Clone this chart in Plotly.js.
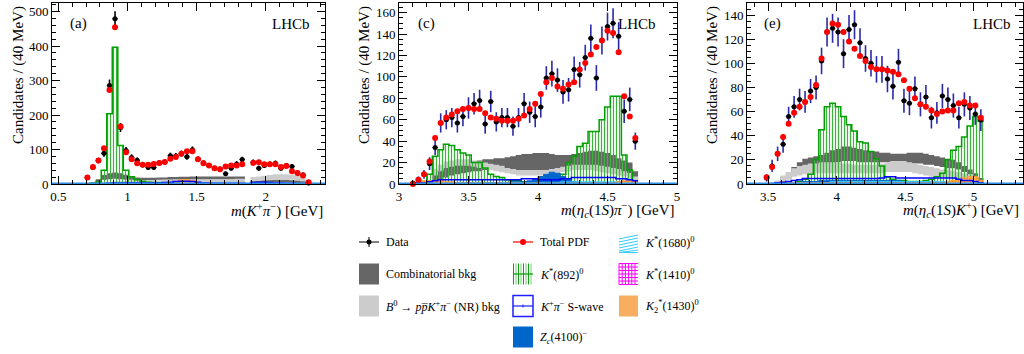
<!DOCTYPE html>
<html><head><meta charset="utf-8">
<script src="https://cdn.plot.ly/plotly-3.0.1.min.js"></script>
<style>html,body{margin:0;padding:0;background:#fff}#chart{width:1024px;height:354px}</style>
</head><body><div id="chart"></div>
<script>
// ---------------- Panel (a): m(K+ pi-) ----------------
const A_x = [0.71,0.75,0.79,0.83,0.87,0.91,0.95,0.99,1.03,1.07,1.11,1.15,1.19,1.23,1.27,1.31,1.35,1.39,1.43,1.47,1.51,1.55,1.59,1.63,1.67,1.71,1.75,1.79,1.83,1.87,1.91,1.95,1.99,2.03,2.07,2.11,2.15,2.19,2.23,2.27,2.31];
const A_data = [19,48,68,89,286,479,164,97,77,69,56,48,48,61,64,82,81,88,79,99,72,61,54,46,43,30,46,58,71,null,63,46,54,57,60,46,54,51,32,27,3];
const A_err  = [5,7,8,10,17,22,13,10,9,8,8,7,7,8,8,9,9,9,9,10,8,8,7,7,7,6,7,8,8,null,8,7,7,8,8,7,7,7,6,5,2];
const A_pdf  = [19,49,68,104,273,455,167,92,72,60,56,56,58,61,64,73,78,88,95,95,72,60,54,46,43,51,54,54,57,null,61,63,57,57,57,49,52,37,32,25,5];
const A_kst  = [1,2,6,40,204,397,112,40,21,12,8,5,4,3,3,3,2,2,2,2,1,1,1,1,1,1,1,1,1,0,1,1,0,0,0,0,0,0,0,0,0];
const A_combHi = [0,4,14,26,31,33,31,27,22,19,18,18,18,19,19,20,20,21,21,22,22,22,22,22,22,22,22,22,22,0,12,12,12,12,12,12,12,11,10,8,3];
const A_combLo = [0,1,6,12,14,15,14,13,12,11,11,11,11,12,12,12,13,13,13,13,13,13,13,13,13,13,13,13,13,0,4,4,4,4,4,4,4,4,3,2,0];
const A_nrHi = [0,0,2,4,6,7,8,9,10,10,10,11,11,11,12,12,12,12,13,13,13,13,13,14,14,14,14,15,15,0,20,22,24,26,28,28,28,27,25,20,8];
const A_nrLo = [0,0,0,1,2,2,3,3,3,3,3,3,3,3,4,4,4,4,4,4,4,4,4,4,4,4,5,5,5,0,8,9,10,11,12,12,12,12,11,9,3];
const A_swave = [0,0,1,1,2,3,3,3,3,3,3,3,3,3,4,5,7,8,8,7,5,3,3,2,2,2,2,2,2,0,4,5,5,4,3,3,2,2,1,1,0];
const A_zc = [0,0,0,0,0,0,0,0,1,1,1,1,1,1,1,1,1,1,1,1,1,1,1,1,1,1,1,1,1,0,1,1,1,1,1,1,1,1,1,0,0];
const A_k1680 = [0,0,0,0,0,0,0,0,0,0,0,0,1,1,1,1,1,1,1,1,1,1,1,1,1,1,1,1,1,0,1,1,1,1,1,1,1,1,0,0,0];
const A_k1410 = [0,0,0,0,0,0,0,0,0,0,0,0,0,0,0,1,1,1,1,1,1,0,0,0,0,0,0,0,0,0,0,0,0,0,0,0,0,0,0,0,0];
const A_k2 = [0,0,0,0,0,0,0,0,0,0,0,0,0,0,1,3,7,12,13,10,5,2,1,0,0,0,0,0,0,0,0,0,0,0,0,0,0,0,0,0,0];

// ---------------- Panel (c): m(eta_c(1S) pi-) ----------------
const C_x = [3.10,3.14,3.18,3.22,3.26,3.30,3.34,3.38,3.42,3.46,3.50,3.54,3.58,3.62,3.66,3.70,3.74,3.78,3.82,3.86,3.90,3.94,3.98,4.02,4.06,4.10,4.14,4.18,4.22,4.26,4.30,4.34,4.38,4.42,4.46,4.50,4.54,4.58,4.62,4.66,4.70];
const C_data = [1,4,9,19,34,57,60,62,57,63,71,75,78,56,77,58,62,62,54,62,75,67,63,72,99,103,97,86,88,107,102,118,136,99,134,147,150,138,68,79,40];
const C_err  = [1,3,4,6,7,9,9,9,9,9,10,10,10,9,10,9,9,9,9,9,10,10,10,10,11,12,11,11,11,12,12,12,13,12,13,13,14,13,11,11,8];
const C_pdf  = [0,4,9,21,43,57,62,65,68,70,71,70,70,66,62,61,59,59,59,61,64,70,75,84,95,99,91,89,93,95,107,113,121,128,134,143,141,123,82,63,43];
const C_kst  = [0,0,1,9,26,32,37,36,32,29,27,20,20,15,9,7,6,4,3,3,2,2,2,2,2,2,3,9,20,26,35,38,49,49,60,72,82,82,27,13,0];
const C_combHi = [0,0,0,3,10,13,15,17,18,20,21,21,22,23,23,24,24,25,26,27,28,28,29,29,29,28,27,27,27,28,29,30,31,31,30,29,27,24,22,20,12];
const C_combLo = [0,0,0,0,2,4,6,8,9,10,11,12,12,13,13,13,14,14,14,13,13,13,13,13,13,14,14,15,15,15,15,15,14,14,14,13,13,12,11,10,5];
const C_nrHi = [0,0,0,3,14,18,21,22,23,23,23,22,21,20,19,18,17,15,14,13,13,13,13,13,13,14,15,16,17,18,18,18,18,18,17,16,15,14,12,10,7];
const C_nrLo = [0,0,0,0,8,12,15,16,17,17,17,16,15,14,13,12,11,10,9,8,8,8,8,8,8,9,10,11,12,13,13,13,13,12,11,10,9,8,7,5,3];
const C_swave = [0,1,1,2,3,4,4,4,4,4,4,4,4,4,4,4,4,4,4,4,5,5,5,4,4,4,4,5,5,6,6,6,6,6,6,6,6,5,5,4,3];
const C_zc = [0,0,1,1,1,1,1,1,1,1,1,1,1,1,1,1,1,1,2,2,2,3,5,7,9,11,10,7,4,2,1,1,1,1,1,1,1,1,1,1,1];
const C_k1680 = [0,1,1,1,1,1,1,1,1,1,1,1,1,1,1,1,1,1,1,1,1,1,1,1,1,1,1,2,2,2,2,2,2,2,2,2,2,2,2,2,1];
const C_k1410 = [0,0,0,0,0,0,0,0,0,0,0,0,0,0,0,0,0,0,0,0,0,0,0,0,0,0,0,0,0,0,0,0,0,0,0,0,0,0,0,0,0];
const C_k2 = [1,2,3,3,3,3,2,2,1,1,1,1,1,1,1,1,1,1,1,1,1,1,1,1,1,1,1,1,1,1,1,1,1,1,1,1,1,2,3,3,3];

// ---------------- Panel (e): m(eta_c(1S) K+) ----------------
const E_x = [3.49,3.53,3.57,3.61,3.65,3.69,3.73,3.77,3.81,3.85,3.89,3.93,3.97,4.01,4.05,4.09,4.13,4.17,4.21,4.25,4.29,4.33,4.37,4.41,4.45,4.49,4.53,4.57,4.61,4.65,4.69,4.73,4.77,4.81,4.85,4.89,4.93,4.97,5.01,5.05];
const E_data = [5,15,25,33,56,64,70,68,77,80,102,126,129,126,108,128,132,117,104,100,95,95,87,81,101,69,67,79,66,72,55,59,73,70,65,55,66,63,58,53];
const E_err  = [3,5,6,7,8,9,9,9,10,10,11,12,12,12,12,12,12,12,11,11,11,11,11,11,11,10,10,10,10,10,9,9,10,10,10,9,10,10,9,9];
const E_pdf  = [5.5,14,25,39,50,59,64,68,72,82,104,126,133,132,126,118,112,106,102,97,95,95,94,93,91,86,79,71,66,64,61,58,60,61,61,67,68,65,65,55];
const E_kst  = [0,0,0,0,0,1,2,4,8,20,45,64,67,64,56,49,44,35,34,27,21,15,6,4,3,3,2,2,2,3,4,6,9,20,28,31,39,48,56,52];
const E_combHi = [0,0,2,6,10,14,18,21,22,23,24,26,28,29,31,31,30,29,28,27,27,26,26,25,25,25,26,26,26,25,24,23,22,21,20,18,15,12,9,5];
const E_combLo = [0,0,0,2,4,7,10,13,14,15,15,16,17,18,19,19,19,18,18,18,18,18,18,18,18,17,17,17,17,16,16,15,14,13,13,12,10,8,6,3];
const E_nrHi = [0,0,3,7,10,13,15,16,17,17,18,18,18,18,17,17,16,16,16,16,16,17,18,19,19,19,18,17,16,15,14,13,12,12,11,10,9,8,6,3];
const E_nrLo = [0,0,0,2,4,6,7,8,8,9,9,9,9,9,9,9,9,9,9,9,9,9,10,10,10,10,10,9,8,7,6,6,5,5,4,4,3,2,1,0];
const E_swave = [0,0.5,1,1.5,2,3,3.5,4.5,4.5,4.5,4.5,4.5,4.5,4.5,4.5,4.5,4.5,4.5,4.5,4.5,4.5,5,6,6,5,5,5,5,5,5,5,5,5,5,5,4,3,3,2,1];
const E_zc = [0,0,0,1,1,1,1,2,2,2,3,3,3,3,3,3,3,3,3,3,3,3,3,3,3,2,2,2,1,1,1,1,1,1,1,1,1,1,1,0];
const E_k1680 = [0,0,1,1,1,1,1,1,1,1,1,1,2,2,2,2,2,2,2,2,2,2,2,2,2,2,2,2,2,2,2,2,2,2,2,2,2,1,1,0];
const E_k1410 = [0,0,0,0,0,0,0,0,0,0,0,0,0,0,0,0,0,0,0,0,0,0,0,0,0,0,0,0,0,0,0,0,0,0,0,0,0,0,0,0];
const E_k2 = [0,0,1,2,2,1,1,1,1,1,1,1,1,1,1,1,1,1,1,1,1,1,1,1,1,1,1,1,1,1,1,1,1,2,3,4,5,6,6,3];

// axis ranges
const A_range = [0.454, 2.429], C_range = [3.0, 5.0], E_range = [3.347, 5.357];
const A_yr = [0, 525], C_yr = [0, 169], E_yr = [0, 150];

const FONT = 'Liberation Serif, Times New Roman, serif';
const HALF = 0.02;

function step(xc, v) {
  const x = [], y = [];
  for (let i = 0; i < xc.length; i++) { x.push(+(xc[i] - HALF).toFixed(4)); y.push(v[i] == null ? 0 : v[i]); }
  x.push(+(xc[xc.length - 1] + HALF).toFixed(4)); y.push(y[y.length - 1]);
  return {x, y};
}

const traces = [];
function panel(xa, ya, P, rng, errColor) {
  const base = {xaxis: xa, yaxis: ya, type: 'scatter', mode: 'lines', hoverinfo: 'skip', showlegend: false};
  function band(lo, hi, color) {
    const l = step(P.x, lo), h = step(P.x, hi);
    traces.push(Object.assign({}, base, {x: l.x, y: l.y, line: {width: 0, shape: 'hv'}}));
    traces.push(Object.assign({}, base, {x: h.x, y: h.y, line: {width: 0, shape: 'hv'}, fill: 'tonexty', fillcolor: color}));
  }
  band(P.combLo, P.combHi, '#666666');
  band(P.nrLo, P.nrHi, '#cccccc');
  // K*(892)0
  const k = step(P.x, P.kst);
  traces.push(Object.assign({}, base, {x: k.x, y: k.y, line: {shape: 'hv', color: '#00a000', width: 1.5},
    fill: 'tozeroy', fillcolor: 'rgba(0,0,0,0)',
    fillpattern: {shape: '|', fgcolor: '#3cb43c', bgcolor: 'rgba(0,0,0,0)', size: 3, solidity: 0.4}}));
  // Zc(4100)-
  const z = step(P.x, P.zc);
  traces.push(Object.assign({}, base, {x: z.x, y: z.y, line: {shape: 'hv', color: '#0066cc', width: 1}, fill: 'tozeroy', fillcolor: '#0066cc'}));
  // K*(1680)0
  const c1 = step(P.x, P.k1680);
  traces.push(Object.assign({}, base, {x: c1.x, y: c1.y, line: {shape: 'hv', color: '#33ccff', width: 1}, fill: 'tozeroy', fillcolor: 'rgba(0,0,0,0)',
    fillpattern: {shape: '/', fgcolor: '#33ccff', bgcolor: 'rgba(0,0,0,0)', size: 3, solidity: 0.4}}));
  // K*(1410)0
  const m1 = step(P.x, P.k1410);
  traces.push(Object.assign({}, base, {x: m1.x, y: m1.y, line: {shape: 'hv', color: '#ff00ff', width: 1}, fill: 'tozeroy', fillcolor: 'rgba(0,0,0,0)',
    fillpattern: {shape: '+', fgcolor: '#ff00ff', bgcolor: 'rgba(0,0,0,0)', size: 3, solidity: 0.3}}));
  // K2*(1430)0
  const o1 = step(P.x, P.k2);
  traces.push(Object.assign({}, base, {x: o1.x, y: o1.y, line: {shape: 'hv', color: '#ff9933', width: 1}, fill: 'tozeroy', fillcolor: 'rgba(0,0,0,0)',
    fillpattern: {shape: '.', fgcolor: '#ff8c1a', bgcolor: '#ffc890', size: 3, solidity: 0.5}}));
  // K+pi- S-wave
  const s = step(P.x, P.swave);
  traces.push(Object.assign({}, base, {x: s.x, y: s.y, line: {shape: 'hv', color: '#0000ff', width: 1.5}}));
  // baseline of components along zero
  traces.push(Object.assign({}, base, {x: rng, y: [0, 0], line: {color: '#2e8ee6', width: 3}}));
  // data
  traces.push({type: 'scatter', mode: 'markers', xaxis: xa, yaxis: ya, x: P.x, y: P.data, showlegend: false, hoverinfo: 'skip', cliponaxis: false,
    marker: {color: 'black', size: 5},
    error_y: {type: 'data', array: P.err, color: errColor, thickness: 1.6, width: 0},
    error_x: {type: 'constant', value: HALF, color: 'black', thickness: 1, width: 0}});
  // total PDF
  traces.push({type: 'scatter', mode: 'markers', xaxis: xa, yaxis: ya, x: P.x, y: P.pdf, showlegend: false, hoverinfo: 'skip', cliponaxis: false,
    marker: {color: '#ff0000', size: 6},
    error_x: {type: 'constant', value: 0.015, color: '#ff0000', thickness: 1.5, width: 0}});
}

panel('x', 'y', {x: A_x, data: A_data, err: A_err, pdf: A_pdf, kst: A_kst, combLo: A_combLo, combHi: A_combHi, nrLo: A_nrLo, nrHi: A_nrHi,
  swave: A_swave, zc: A_zc, k1680: A_k1680, k1410: A_k1410, k2: A_k2}, A_range, 'black');
panel('x2', 'y2', {x: C_x, data: C_data, err: C_err, pdf: C_pdf, kst: C_kst, combLo: C_combLo, combHi: C_combHi, nrLo: C_nrLo, nrHi: C_nrHi,
  swave: C_swave, zc: C_zc, k1680: C_k1680, k1410: C_k1410, k2: C_k2}, C_range, '#2a2aa8');
panel('x3', 'y3', {x: E_x, data: E_data, err: E_err, pdf: E_pdf, kst: E_kst, combLo: E_combLo, combHi: E_combHi, nrLo: E_nrLo, nrHi: E_nrHi,
  swave: E_swave, zc: E_zc, k1680: E_k1680, k1410: E_k1410, k2: E_k2}, E_range, '#2a2aa8');

const W = 1024, H = 354;
const PX = p => p / W, PY = p => 1 - p / H;
const yDom = [PY(184), PY(3)];

function xax(dom, rng, anchor) {
  return {domain: [PX(dom[0]), PX(dom[1])], range: rng, anchor: anchor, showgrid: false, zeroline: false,
    showline: true, linecolor: 'black', linewidth: 1, mirror: 'allticks', ticks: 'inside', ticklen: 8, tickwidth: 1, tickcolor: 'black',
    tick0: 0, dtick: 0.5, minor: {dtick: 0.1, tick0: 0, ticks: 'inside', ticklen: 4, tickcolor: 'black', tickwidth: 1, showgrid: false},
    tickfont: {family: FONT, size: 13, color: 'black'}, fixedrange: true};
}
function yax(rng, anchor, dt, mdt) {
  return {domain: yDom, range: rng, anchor: anchor, showgrid: false, zeroline: false,
    showline: true, linecolor: 'black', linewidth: 1, mirror: 'allticks', ticks: 'inside', ticklen: 8, tickwidth: 1, tickcolor: 'black',
    tick0: 0, dtick: dt, minor: {dtick: mdt, tick0: 0, ticks: 'inside', ticklen: 4, tickcolor: 'black', tickwidth: 1, showgrid: false},
    tickfont: {family: FONT, size: 13, color: 'black'}, fixedrange: true};
}

const ann = [];
function txt(text, x, y, xa, ya, size, angle) {
  ann.push({text: text, x: PX(x), y: PY(y), xref: 'paper', yref: 'paper', xanchor: xa, yanchor: ya, showarrow: false,
    textangle: angle || 0, font: {family: FONT, size: size, color: 'black'}});
}
// axis titles
const ytitle = 'Candidates / (40 MeV)';
txt(ytitle, 18, 4, 'center', 'top', 15, -90);
txt(ytitle, 364, 4, 'center', 'top', 15, -90);
txt(ytitle, 712, 4, 'center', 'top', 15, -90);
txt('<i>m</i>(<i>K</i><sup>+</sup><i>π</i><sup>−</sup>) [GeV]', 325, 210, 'right', 'middle', 15);
txt('<i>m</i>(<i>η</i><sub><i>c</i></sub>(1<i>S</i>)<i>π</i><sup>−</sup>) [GeV]', 676, 210, 'right', 'middle', 15);
txt('<i>m</i>(<i>η</i><sub><i>c</i></sub>(1<i>S</i>)<i>K</i><sup>+</sup>) [GeV]', 1021, 210, 'right', 'middle', 15);
// panel labels
txt('(a)', 68, 23, 'left', 'middle', 15);
txt('LHCb', 312, 24, 'right', 'middle', 15);
txt('(c)', 416, 23, 'left', 'middle', 15);
txt('LHCb', 658, 24, 'right', 'middle', 15);
txt('(e)', 762, 23, 'left', 'middle', 15);
txt('LHCb', 1013, 24, 'right', 'middle', 15);

// legend
const R = [242, 274, 306, 337];
const C1 = [359, 379], C2 = [513, 533], C3 = [619, 638];
const LS = 12;
txt('Data', 384, R[0], 'left', 'middle', LS);
txt('Combinatorial bkg', 384, R[1], 'left', 'middle', LS);
txt('<i>B</i><sup>0</sup> → <i>p</i><i>p\u0305</i><i>K</i><sup>+</sup><i>π</i><sup>−</sup> (NR) bkg', 384, R[2], 'left', 'middle', LS);
txt('Total PDF', 538, R[0], 'left', 'middle', LS);
txt('<i>K</i><sup>*</sup>(892)<sup>0</sup>', 538, R[1], 'left', 'middle', LS);
txt('<i>K</i><sup>+</sup><i>π</i><sup>−</sup> S-wave', 538, R[2], 'left', 'middle', LS);
txt('<i>Z</i><sub><i>c</i></sub>(4100)<sup>−</sup>', 538, R[3], 'left', 'middle', LS);
txt('<i>K</i><sup>*</sup>(1680)<sup>0</sup>', 643, R[0], 'left', 'middle', LS);
txt('<i>K</i><sup>*</sup>(1410)<sup>0</sup>', 643, R[1], 'left', 'middle', LS);
txt('<i>K</i><sub>2</sub><sup>*</sup>(1430)<sup>0</sup>', 643, R[2], 'left', 'middle', LS);

const shapes = [];
function rect(x0, y0, x1, y1, fill, lc, lw) {
  shapes.push({type: 'rect', xref: 'paper', yref: 'paper', x0: PX(x0), x1: PX(x1), y0: PY(y1), y1: PY(y0),
    fillcolor: fill || 'rgba(0,0,0,0)', line: {color: lc || 'rgba(0,0,0,0)', width: lw || 0}});
}
function seg(x0, y0, x1, y1, color, w) {
  shapes.push({type: 'line', xref: 'paper', yref: 'paper', x0: PX(x0), x1: PX(x1), y0: PY(y0), y1: PY(y1), line: {color: color, width: w}});
}
function dot(cx, cy, r, color) {
  shapes.push({type: 'circle', xref: 'paper', yref: 'paper', x0: PX(cx - r), x1: PX(cx + r), y0: PY(cy + r), y1: PY(cy - r),
    fillcolor: color, line: {color: color, width: 0}});
}
const hb = 10.5;
// Data
seg(C1[0], R[0], C1[1], R[0], 'black', 1);
seg((C1[0] + C1[1]) / 2, R[0] - 5, (C1[0] + C1[1]) / 2, R[0] + 5, 'black', 1);
dot((C1[0] + C1[1]) / 2, R[0], 2.5, 'black');
// Combinatorial / NR
rect(C1[0], R[1] - hb, C1[1], R[1] + hb, '#666666');
rect(C1[0], R[2] - hb, C1[1], R[2] + hb, '#cccccc');
// Total PDF
seg(C2[0], R[0], C2[1], R[0], '#ff0000', 1.2);
dot((C2[0] + C2[1]) / 2, R[0], 3, '#ff0000');
// K*(892)
for (let i = 0, xx = C2[0] + 0.5; xx <= C2[1]; xx += 2.5, i++) seg(xx, R[1] - hb, xx, R[1] + hb, i % 2 ? '#6fd06f' : '#1a9a1a', 1);
seg(C2[0], R[1], C2[1], R[1], '#009900', 1.2);
// S-wave
rect(C2[0], R[2] - hb, C2[1], R[2] + hb, null, '#2020ff', 1.5);
seg(C2[0], R[2], C2[1], R[2], '#2020ff', 1.2);
seg((C2[0] + C2[1]) / 2, R[2] - 1.5, (C2[0] + C2[1]) / 2, R[2] + 1.5, '#2020ff', 1);
// Zc
rect(C2[0], R[3] - hb, C2[1], R[3] + hb, '#0066cc');
// K*(1680)
for (let k = -3; k <= 4; k++) {
  const y0 = R[0] + 6 + k * 3, y1 = y0 - 4;
  seg(C3[0], Math.min(R[0] + hb, Math.max(R[0] - hb, y0)), C3[1], Math.min(R[0] + hb, Math.max(R[0] - hb, y1)), '#33ccff', 1);
}
// K*(1410)
for (let xx = C3[0]; xx <= C3[1] + 0.1; xx += 3.2) seg(xx, R[1] - hb, xx, R[1] + hb, '#ff00ff', 1);
for (let yy = R[1] - hb; yy <= R[1] + hb + 0.1; yy += 3.5) seg(C3[0], yy, C3[1], yy, '#ff00ff', 1);
// K2*(1430)
rect(C3[0], R[2] - hb, C3[1], R[2] + hb, '#f7ae60');

const layout = {
  width: W, height: H, margin: {l: 0, r: 0, t: 0, b: 0}, paper_bgcolor: 'white', plot_bgcolor: 'white', showlegend: false,
  font: {family: FONT, color: 'black'},
  xaxis: xax([52, 325], A_range, 'y'), yaxis: yax(A_yr, 'x', 100, 20),
  xaxis2: xax([399, 677], C_range, 'y2'), yaxis2: yax(C_yr, 'x2', 20, 5),
  xaxis3: xax([747, 1023], E_range, 'y3'), yaxis3: yax(E_yr, 'x3', 20, 5),
  annotations: ann, shapes: shapes
};
Plotly.newPlot('chart', traces, layout, {staticPlot: true, displayModeBar: false});
</script></body></html>
